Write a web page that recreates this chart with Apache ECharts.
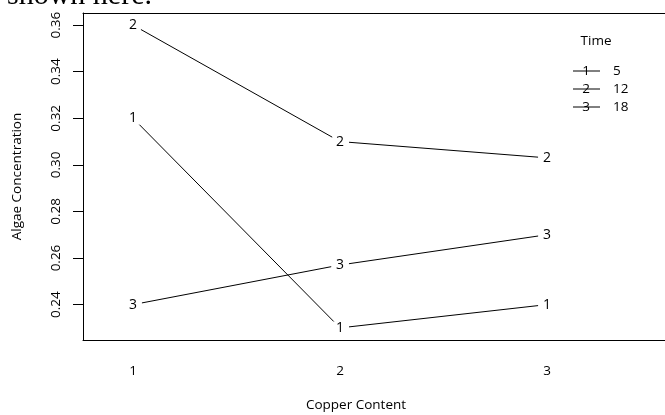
<!DOCTYPE html>
<html><head><meta charset="utf-8">
<script src="https://cdn.jsdelivr.net/npm/echarts@6/dist/echarts.min.js"></script>
<style>html,body{margin:0;padding:0;background:#fff}#c{width:665px;height:415px}</style>
</head><body><div id="c"></div>
<script>
const copperLevels = [1, 2, 3];
const timeLevels = ['5', '12', '18'];
const time5 = [0.320, 0.230, 0.240];
const time12 = [0.360, 0.310, 0.303];
const time18 = [0.240, 0.257, 0.270];
const yTicks = [0.24, 0.26, 0.28, 0.30, 0.32, 0.34, 0.36];
const xTicks = [1, 2, 3];

const FONT = '"Open Sans", sans-serif';
const GAP = 9;
const allSeries = [time5, time12, time18];

function seriesFor(vals, idx) {
  return {
    type: 'custom',
    name: timeLevels[idx],
    data: copperLevels.map((c, i) => [c, vals[i]]),
    encode: { x: 0, y: 1 },
    silent: true,
    renderItem(params, api) {
      const i = params.dataIndex;
      const p = api.coord([copperLevels[i], vals[i]]);
      const children = [{
        type: 'text',
        style: { text: String(idx + 1), x: p[0], y: p[1], align: 'center', verticalAlign: 'middle',
                 font: '14px ' + FONT, fill: '#000' }
      }];
      if (i < vals.length - 1) {
        const q = api.coord([copperLevels[i + 1], vals[i + 1]]);
        const dx = q[0] - p[0], dy = q[1] - p[1];
        const L = Math.sqrt(dx * dx + dy * dy);
        const ux = dx / L, uy = dy / L;
        children.push({
          type: 'line',
          shape: { x1: p[0] + ux * GAP, y1: p[1] + uy * GAP, x2: q[0] - ux * GAP, y2: q[1] - uy * GAP },
          style: { stroke: '#000', lineWidth: 1 }
        });
      }
      return { type: 'group', children };
    }
  };
}

const legendGraphics = [
  { type: 'text', x: 596, y: 41, style: { text: 'Time', font: '13.5px ' + FONT, fill: '#000', align: 'center', verticalAlign: 'middle' } }
];
timeLevels.forEach((t, k) => {
  const y = 71 + k * 18;
  legendGraphics.push({ type: 'line', shape: { x1: 573, y1: y, x2: 600, y2: y }, style: { stroke: '#000', lineWidth: 1 } });
  legendGraphics.push({ type: 'text', x: 586, y: y, style: { text: String(k + 1), align: 'center', verticalAlign: 'middle', font: '13.5px ' + FONT, fill: '#000' } });
  legendGraphics.push({ type: 'text', x: 613, y: y, style: { text: t, align: 'left', verticalAlign: 'middle', font: '13.5px ' + FONT, fill: '#000' } });
});

const chart = echarts.init(document.getElementById('c'), null, { renderer: 'canvas' });
chart.setOption({
  animation: false,
  backgroundColor: '#fff',
  grid: { left: 83, top: 13, right: 0, height: 327, show: false },
  xAxis: [{
    type: 'value', min: 0.758, max: 3.57, position: 'bottom',
    axisLine: { show: true, onZero: false, lineStyle: { color: '#000', width: 1 } },
    axisTick: { show: false }, splitLine: { show: false },
    axisLabel: { customValues: xTicks, margin: 24, color: '#000', fontSize: 13.5, fontFamily: FONT }
  }, {
    type: 'value', min: 0.758, max: 3.57, position: 'top',
    axisLine: { show: true, onZero: false, lineStyle: { color: '#000', width: 1 } },
    axisTick: { show: false }, splitLine: { show: false }, axisLabel: { show: false }
  }],
  yAxis: {
    type: 'value', min: 0.2248, max: 0.3652,
    name: 'Algae Concentration', nameLocation: 'middle', nameGap: 59,
    nameTextStyle: { color: '#000', fontSize: 13.5, fontFamily: FONT },
    axisLine: { show: true, onZero: false, lineStyle: { color: '#000', width: 1 } },
    splitLine: { show: false },
    axisTick: { show: true, customValues: yTicks, length: 10, lineStyle: { color: '#000' } },
    axisLabel: { customValues: yTicks, rotate: 90, margin: 20, color: '#000', fontSize: 13.5, fontFamily: FONT,
                 formatter: v => v.toFixed(2) }
  },
  graphic: [
    { type: 'text', x: 7, y: -4, style: { text: 'shown here.', font: '30px "Liberation Serif", serif', fill: '#000', verticalAlign: 'middle' } },
    { type: 'text', x: 356, y: 405, style: { text: 'Copper Content', font: '13.5px ' + FONT, fill: '#000', align: 'center', verticalAlign: 'middle' } }
  ].concat(legendGraphics),
  series: allSeries.map((v, i) => seriesFor(v, i))
});
</script>
</body></html>
